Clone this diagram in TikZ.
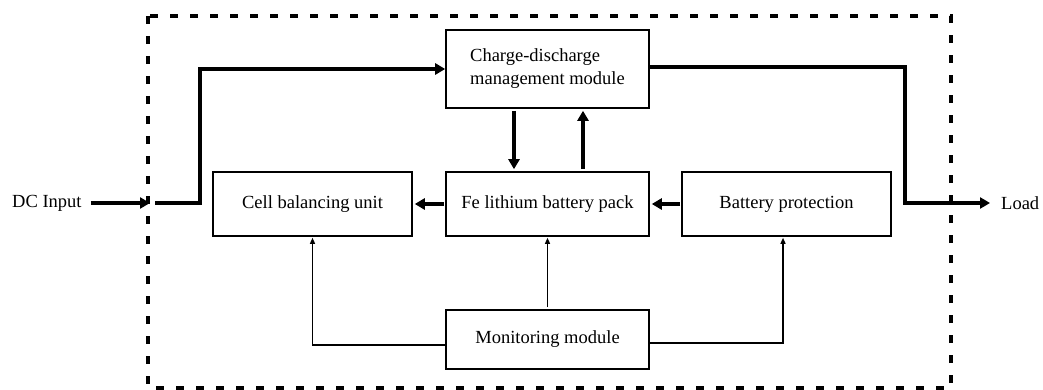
\documentclass[tikz,border=0pt]{standalone}
\usepackage{fontspec}
\setmainfont{Liberation Serif}
\usetikzlibrary{arrows.meta}

\begin{document}
\begin{tikzpicture}[line join=miter,x=1pt,y=-1pt,
  box/.style={draw,line width=1.6pt,inner sep=0pt,font=\fontsize{18.5}{23}\selectfont},
  lbl/.style={inner sep=0pt,font=\fontsize{18.5}{23}\selectfont},
  bus/.style={line width=4pt,-{Triangle[length=10pt,width=11pt]}},
  sig/.style={line width=1.3pt,-{Triangle[length=6pt,width=5pt]}}]
\useasboundingbox (0,0) rectangle (1043,390);
% system boundary
\draw[line width=4pt,dash pattern=on 8pt off 12pt] (148,16) rectangle (951,388);
% blocks
\node[box,minimum width=203pt,minimum height=78pt,align=left] (charge) at (547.5,69) {Charge-discharge\\management module};
\node[box,minimum width=203pt,minimum height=64pt] (fe) at (547.5,204) {Fe lithium battery pack};
\node[box,minimum width=199pt,minimum height=64pt] (cell) at (312.5,204) {Cell balancing unit};
\node[box,minimum width=209pt,minimum height=64pt] (prot) at (786.5,204) {Battery protection};
\node[box,minimum width=203pt,minimum height=59pt] (mon) at (547.5,339.5) {Monitoring module};
\node[lbl,anchor=west] (dc) at (12,203) {DC Input};
\node[lbl,anchor=west] (load) at (1001,203) {Load};
\coordinate (inL) at (150,203);
\coordinate (inA) at (155,203);
\coordinate (turnB) at (905,203);
\coordinate (outB) at (990,203);
% power path
\draw[bus,shorten <=9pt] (dc.east) -- (inL);
\draw[bus] (inA) -- ++(45,0) |- (charge.west);
\draw[bus] ([yshift=2pt]charge.east) -| (turnB) -- (outB);
\draw[bus,shorten <=2pt,shorten >=2pt] ([xshift=-33.5pt]charge.south) -- ([xshift=-33.5pt]fe.north);
\draw[bus,shorten <=2pt,shorten >=2pt] ([xshift=35.5pt]fe.north) -- ([xshift=35.5pt]charge.south);
\draw[bus,shorten <=1pt,shorten >=2pt] (prot.west) -- (fe.east);
\draw[bus,shorten <=1pt,shorten >=2pt] (fe.west) -- (cell.east);
% monitoring signals
\draw[sig,shorten >=1pt] ([yshift=-5.5pt]mon.west) -| (cell.south);
\draw[sig,shorten <=2pt,shorten >=1pt] (mon.north) -- (fe.south);
\draw[sig,shorten >=1pt] ([yshift=-3.5pt]mon.east) -| ([xshift=-3.5pt]prot.south);
\end{tikzpicture}
\end{document}
